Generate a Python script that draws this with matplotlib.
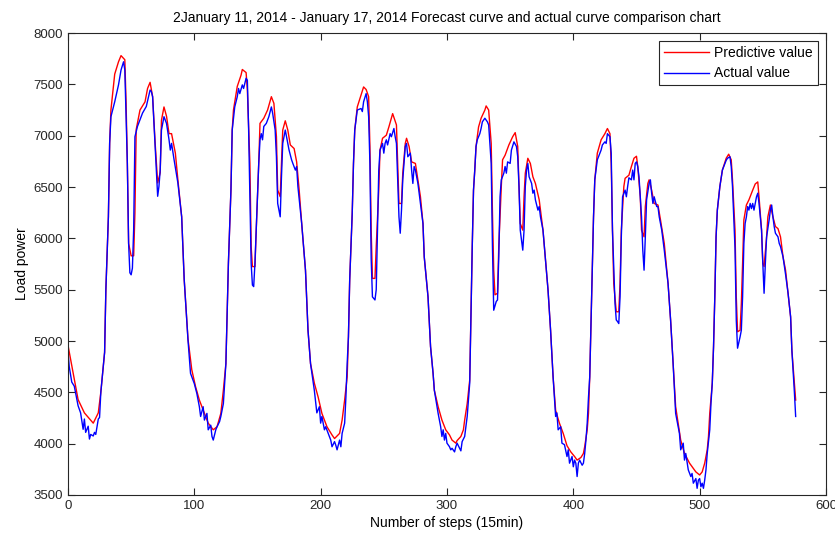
import matplotlib
matplotlib.use('Agg')
import matplotlib.pyplot as plt

plt.rcParams['font.family'] = ['Liberation Sans', 'DejaVu Sans']

# predicted load (per 15-min step)
pred_steps = [
    0, 3, 8, 13, 20, 24, 26, 29, 30, 32, 33, 34, 37, 40, 42, 45, 46, 47, 48, 50,
    52, 53, 54, 57, 61, 63, 65, 67, 69, 71, 73, 74, 76, 78, 80, 82, 85, 87, 90, 92, 95,
    98, 101, 104, 108, 111, 115, 118, 121, 123, 125, 126, 127, 129, 130, 131, 134, 137, 138, 141, 142,
    144, 145, 146, 148, 149, 151, 152, 155, 158, 161, 163, 165, 166, 168, 169, 170, 172, 174, 176, 179,
    181, 183, 185, 188, 190, 192, 195,
    198, 201, 205, 209, 211, 215, 217, 219, 221, 222, 223, 225, 226, 227, 229, 232, 234, 236, 238, 239,
    240, 241, 243, 244, 246, 247, 249, 252, 254, 257, 260, 261, 262, 264, 265, 267, 268, 270, 272, 275,
    277, 279, 281, 282, 285, 287, 289, 290, 293, 296,
    299, 302, 304, 307, 308, 311, 313, 314, 316, 318, 319, 320, 321, 322, 323, 325, 327, 330, 331, 333,
    335, 336, 337, 338, 340, 341, 343, 344, 346, 349, 352, 354, 356, 357, 358, 360, 361, 362, 364, 366,
    368, 370, 373, 376, 378, 380, 382, 384, 386, 389, 392,
    395, 398, 401, 403, 406, 408, 409, 411, 412, 413, 414, 415, 416, 417, 419, 422, 425, 427, 429, 430,
    431, 432, 434, 436, 437, 438, 440, 441, 444, 446, 448, 450, 451, 453, 454, 456, 457, 459, 460, 462,
    464, 467, 469, 472, 475, 477, 479, 481, 483, 485, 488, 492,
    495, 497, 500, 502, 504, 506, 507, 508, 510, 511, 512, 513, 514, 516, 518, 521, 523, 525, 526, 528,
    529, 530, 532, 533, 534, 535, 537, 539, 542, 544, 546, 547, 549, 550, 551, 553, 554, 556, 558, 560,
    562, 564, 566, 568, 570, 572, 573, 575, 576]
pred_values = [
    4960, 4760, 4430, 4300, 4200, 4300, 4500, 4890, 5500, 6210, 6930, 7250, 7600, 7720, 7780, 7740, 7320, 6730, 5950, 5830,
    5830, 6250, 7060, 7250, 7330, 7460, 7520, 7380, 6930, 6540, 6640, 7150, 7280, 7190, 7020, 7020, 6830, 6570, 6210, 5600, 5020,
    4720, 4555, 4425, 4295, 4200, 4135, 4165, 4295, 4520, 4780, 5270, 5760, 6470, 7055, 7250, 7480, 7590, 7645, 7615, 7445,
    6730, 5920, 5725, 5725, 6080, 6730, 7120, 7170, 7250, 7380, 7315, 6990, 6470, 6405, 6730, 7055, 7145, 7055, 6910, 6875,
    6745, 6470, 6145, 5690, 5105, 4780, 4590,
    4455, 4295, 4165, 4085, 4050, 4100, 4230, 4425, 4650, 5040, 5595, 6245, 6730, 7055, 7280, 7395, 7475, 7450, 7380, 6895,
    6080, 5610, 5610, 5920, 6470, 6860, 6975, 7005, 7085, 7215, 7105, 6730, 6340, 6340, 6635, 6925, 6975, 6895, 6745, 6730,
    6570, 6405, 6145, 5820, 5430, 4945, 4685, 4520, 4360, 4230,
    4135, 4085, 4035, 4005, 4030, 4070, 4135, 4230, 4390, 4620, 5270, 5920, 6470, 6665, 6895, 7085, 7170, 7250, 7290, 7250,
    6925, 6245, 5690, 5450, 5465, 5920, 6505, 6765, 6810, 6910, 6990, 7030, 6895, 6505, 6145, 6080, 6405, 6635, 6780, 6730,
    6600, 6535, 6375, 6080, 5790, 5495, 5105, 4650, 4325, 4200, 4100,
    3980, 3920, 3875, 3840, 3865, 3905, 3970, 4135, 4295, 4650, 5170, 5690, 6210, 6570, 6830, 6960, 7020, 7070, 7020, 6730,
    6080, 5560, 5285, 5285, 5560, 6080, 6505, 6585, 6615, 6700, 6780, 6800, 6700, 6405, 6080, 6015, 6310, 6535, 6570, 6470,
    6340, 6325, 6180, 5950, 5560, 5205, 4780, 4360, 4200, 4035, 3905, 3810,
    3760, 3725, 3695, 3725, 3810, 3940, 4070, 4295, 4590, 4945, 5430, 6015, 6275, 6505, 6665, 6780, 6820, 6765, 6570, 6080,
    5430, 5090, 5105, 5365, 5755, 6180, 6325, 6375, 6470, 6530, 6550, 6405, 6080, 5755, 5725, 6015, 6210, 6325, 6210, 6115,
    6095, 6015, 5820, 5690, 5465, 5235, 4910, 4590, 4425]

# actual load
actual_steps = [
    0, 1, 3, 5, 8, 10, 12, 13, 14, 16, 17, 18, 20, 21, 22, 24, 25, 26, 29, 30,
    32, 33, 34, 37, 40, 42, 44, 45, 47, 48, 49, 50, 51, 52, 53, 55, 57, 59, 62, 65,
    66, 67, 69, 71, 72, 73, 74, 76, 78, 80, 81, 82, 84, 87, 90, 92, 95,
    97, 100, 102, 104, 105, 107, 108, 110, 111, 113, 114, 115, 117, 118, 120, 121, 123, 125, 126, 127,
    129, 130, 132, 134, 135, 136, 138, 139, 141, 142, 143, 144, 145, 146, 147, 148, 149, 151, 152, 153,
    154, 155, 157, 159, 161, 162, 164, 165, 166, 168, 169, 170, 172, 173, 175, 177, 178, 180, 181, 182,
    185, 188, 190, 192, 195,
    197, 199, 200, 201, 203, 204, 206, 208, 209, 211, 212, 213, 215, 216, 217, 219, 220, 221, 222, 223,
    225, 226, 227, 229, 232, 233, 234, 236, 237, 238, 239, 240, 241, 243, 244, 245, 246, 247, 249, 250,
    251, 252, 253, 255, 256, 258, 259, 260, 261, 262, 263, 264, 265, 267, 268, 269, 271, 272, 273, 274,
    275, 277, 279, 281, 282, 285, 287, 289, 290, 293, 295, 296,
    297, 298, 299, 300, 302, 303, 304, 306, 307, 308, 310, 311, 312, 314, 315, 316, 318, 319, 320, 321,
    322, 323, 324, 326, 327, 328, 330, 332, 333, 335, 336, 337, 339, 340, 341, 342, 343, 345, 346, 347,
    348, 350, 351, 353, 355, 356, 357, 358, 360, 361, 362, 363, 364, 365, 367, 368, 369, 370, 372, 373,
    374, 376, 378, 380, 382, 384, 385, 386, 387, 388, 390, 391, 393, 395,
    396, 397, 399, 400, 401, 402, 403, 404, 405, 407, 408, 409, 410, 411, 412, 413, 414, 415, 416, 417,
    419, 421, 422, 423, 425, 426, 427, 429, 430, 431, 433, 434, 435, 436, 437, 438, 439, 441, 442, 443,
    444, 446, 447, 448, 449, 450, 451, 452, 454, 455, 456, 457, 458, 460, 461, 462, 463, 464, 466, 467,
    468, 470, 472, 475, 477, 479, 481, 484, 485, 487, 488, 489, 491, 493, 494, 495,
    497, 498, 499, 500, 501, 502, 503, 504, 505, 506, 508, 509, 510, 511, 512, 513, 514, 516, 518, 520,
    521, 522, 524, 525, 526, 528, 529, 530, 532, 533, 534, 535, 536, 537, 538, 539, 540, 541, 542, 543,
    545, 546, 547, 549, 550, 551, 552, 553, 555, 556, 557, 558, 559, 560, 562, 563, 564, 566, 568, 570,
    572, 573, 575, 576]
actual_values = [
    4900, 4750, 4600, 4560, 4370, 4300, 4140, 4240, 4110, 4170, 4045, 4090, 4075, 4110, 4090, 4240, 4255, 4500, 4890, 5500,
    6210, 6930, 7185, 7330, 7495, 7640, 7720, 7640, 6730, 5950, 5665, 5645, 5710, 6085, 6990, 7090, 7155, 7220, 7285, 7445,
    7430, 7380, 6900, 6410, 6505, 6665, 7055, 7185, 7120, 6960, 6860, 6925, 6765, 6540, 6210, 5600, 5010,
    4685, 4585, 4490, 4360, 4265, 4360, 4230, 4295, 4135, 4180, 4070, 4035, 4135, 4165, 4215, 4265, 4390, 4780, 5270, 5760,
    6470, 7055, 7280, 7380, 7460, 7410, 7495, 7460, 7560, 7540, 7055, 6410, 5755, 5545, 5530, 5755, 6080, 6730, 6960, 7020,
    6960, 7090, 7120, 7185, 7280, 7220, 7055, 6795, 6340, 6210, 6600, 6925, 7055, 6990, 6860, 6765, 6730, 6665, 6700, 6505,
    6145, 5690, 5105, 4780, 4520,
    4300, 4360, 4200, 4265, 4135, 4165, 4100, 4035, 3970, 4020, 3985, 3940, 4035, 3970, 4100, 4200, 4455, 4780, 5040, 5595,
    6245, 6730, 7055, 7250, 7265, 7235, 7330, 7410, 7330, 7185, 6730, 5800, 5430, 5400, 5500, 6080, 6660, 6860, 6925, 6830,
    6925, 6960, 6910, 7020, 6990, 7070, 6990, 6925, 6570, 6210, 6050, 6275, 6570, 6895, 6925, 6795, 6830, 6665, 6535, 6700,
    6665, 6535, 6340, 6145, 5820, 5430, 4945, 4685, 4520, 4295, 4165, 4070,
    4135, 4035, 4100, 4005, 3970, 3940, 3955, 3920, 3970, 4005, 3955, 3930, 4020, 4070, 4165, 4265, 4590, 5270, 5920, 6470,
    6665, 6895, 6960, 7020, 7070, 7135, 7170, 7135, 7105, 6730, 5920, 5300, 5385, 5400, 5820, 6405, 6570, 6635, 6700, 6635,
    6745, 6730, 6860, 6940, 6895, 6795, 6505, 6080, 5885, 6080, 6505, 6665, 6730, 6600, 6535, 6440, 6470, 6375, 6275, 6310,
    6210, 6080, 5790, 5495, 5105, 4650, 4455, 4265, 4300, 4135, 4165, 4005, 3990, 3875,
    3940, 3810, 3875, 3775, 3840, 3810, 3680, 3810, 3840, 3790, 3810, 3905, 4035, 4200, 4450, 4650, 5170, 5690, 6210, 6570,
    6765, 6830, 6860, 6910, 6940, 6925, 7020, 6990, 6830, 6080, 5365, 5205, 5190, 5170, 5430, 6015, 6405, 6470, 6405, 6505,
    6590, 6570, 6665, 6570, 6730, 6745, 6700, 6600, 6210, 5885, 5690, 6015, 6375, 6535, 6570, 6440, 6340, 6405, 6310, 6310,
    6210, 6080, 5885, 5560, 5205, 4780, 4295, 4100, 3940, 4005, 3840, 3905, 3745, 3680, 3710, 3615,
    3660, 3565, 3645, 3660, 3580, 3615, 3565, 3645, 3745, 3905, 4135, 4400, 4590, 4945, 5430, 6015, 6275, 6505, 6665, 6730,
    6760, 6780, 6795, 6700, 6505, 5900, 5200, 4930, 5040, 5105, 5430, 5950, 6145, 6210, 6310, 6275, 6340, 6290, 6340, 6275,
    6405, 6440, 6340, 6080, 5755, 5465, 5755, 6015, 6180, 6275, 6325, 6210, 6115, 6050, 6015, 5950, 5920, 5820, 5650, 5465,
    5235, 4910, 4500, 4265]

x_ticks = [0, 100, 200, 300, 400, 500, 600]
y_ticks = [3500, 4000, 4500, 5000, 5500, 6000, 6500, 7000, 7500, 8000]

fig = plt.figure(figsize=(8.35, 5.33), dpi=100)
ax = fig.add_axes([0.0814, 0.0713, 0.9078, 0.8667])

ax.plot(pred_steps, pred_values, color='red', lw=1.0, label='Predictive value')
ax.plot(actual_steps, actual_values, color='blue', lw=1.0, label='Actual value')

ax.set_xlim(0, 600)
ax.set_ylim(3500, 8000)
ax.set_xticks(x_ticks)
ax.set_yticks(y_ticks)
ax.tick_params(direction='in', top=True, right=True, length=5, width=0.8,
               labelsize=9.5, colors='#262626')
for sp in ax.spines.values():
    sp.set_color('#262626')
    sp.set_linewidth(0.8)

ax.set_title('2January 11, 2014 - January 17, 2014 Forecast curve and actual curve comparison chart',
             fontsize=10, pad=8)
ax.set_xlabel('Number of steps (15min)', fontsize=10, labelpad=3)
ax.set_ylabel('Load power', fontsize=10, labelpad=3)

leg = ax.legend(loc='upper right', fontsize=10, fancybox=False, framealpha=1,
                edgecolor='#262626', borderpad=0.35, labelspacing=0.45,
                handlelength=3.2, handletextpad=0.4, borderaxespad=0.6)
leg.get_frame().set_linewidth(0.8)

fig.savefig('out.png', dpi=100)
